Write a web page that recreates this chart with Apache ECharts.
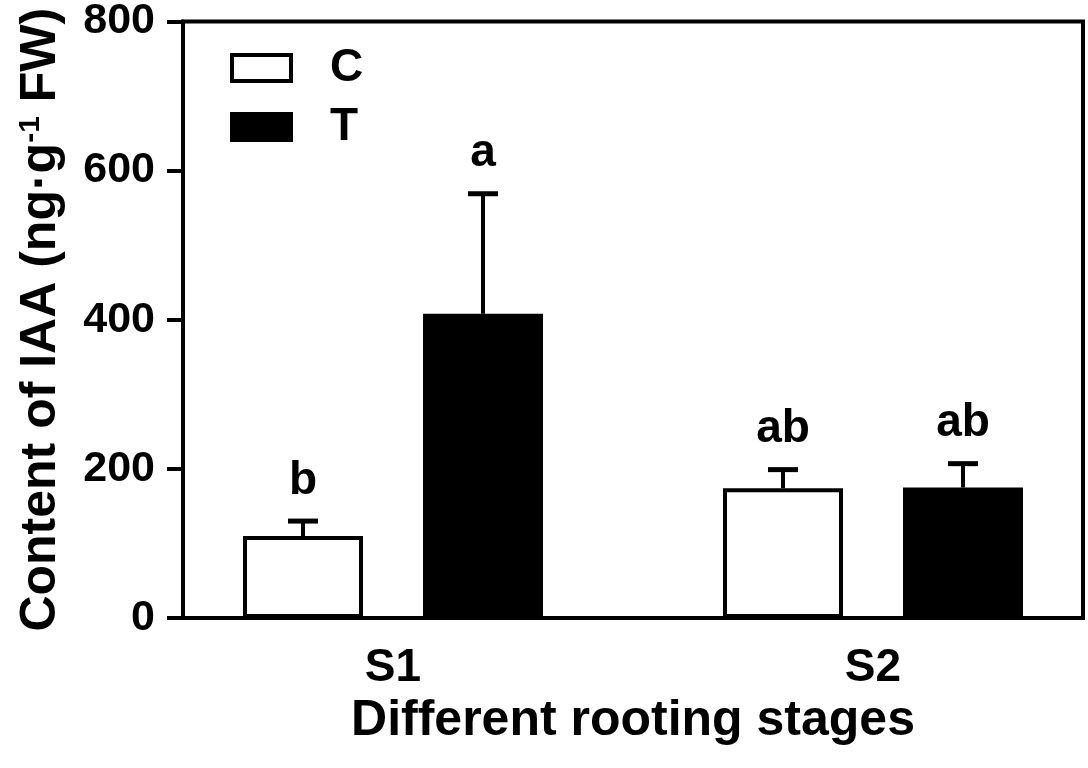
<!DOCTYPE html>
<html>
<head>
<meta charset="utf-8">
<script src="https://cdn.jsdelivr.net/npm/echarts@6/dist/echarts.min.js"></script>
<style>
  html, body { margin: 0; padding: 0; background: #fff; }
  #chart { width: 1088px; height: 768px; }
</style>
</head>
<body>
<div id="chart"></div>
<script>
// data
const stages = ["S1", "S2"];
const groups = ["C", "T"];
const meanC = [110, 174];
const meanT = [408, 175];
const errC = [20, 25];
const errT = [161, 32];
const sigC = ["b", "ab"];
const sigT = ["a", "ab"];

// layout: stage centres and bar offset on a 0..15 x scale
const stageCenter = [3.5, 11.5];
const barOffset = 1.5;

const FONT = '"Liberation Sans", Arial, sans-serif';

const chart = echarts.init(document.getElementById("chart"));

function barData(means, side) {
  return means.map((v, i) => [stageCenter[i] + side * barOffset, v]);
}

function errData(means, errs, side) {
  return means.map((v, i) => [stageCenter[i] + side * barOffset, v, errs[i]]);
}

function makeErrRender(letters) {
  return function (params, api) {
    const x = api.value(0), v = api.value(1), e = api.value(2);
    const base = api.coord([x, v]);
    const top = api.coord([x, v + e]);
    return {
      type: "group",
      children: [
        { type: "line", shape: { x1: base[0], y1: base[1], x2: top[0], y2: top[1] },
          style: { stroke: "#000", lineWidth: 4 } },
        { type: "line", shape: { x1: top[0] - 15, y1: top[1], x2: top[0] + 15, y2: top[1] },
          style: { stroke: "#000", lineWidth: 5 } },
        { type: "text", x: top[0], y: top[1] - 17,
          style: { text: letters[params.dataIndex], fill: "#000", align: "center", verticalAlign: "bottom",
                   font: "bold 46px " + FONT } },
      ],
    };
  };
}

chart.setOption({
  animation: false,
  grid: {
    left: 183, right: 5, top: 20, bottom: 150,
    show: true, borderColor: "#000", borderWidth: 4,
  },
  legend: {
    data: groups,
    orient: "vertical",
    left: 225, top: 40,
    itemWidth: 59, itemHeight: 26, itemGap: 13,
    icon: "rect",
    itemStyle: { borderColor: "#000", borderWidth: 4 },
    textStyle: { fontSize: 46, fontWeight: "bold", fontFamily: FONT, color: "#000",
                 lineHeight: 30, padding: [0, 0, 0, 34] },
  },
  xAxis: {
    type: "value",
    min: 0, max: 15,
    axisLine: { show: true, lineStyle: { color: "#000", width: 4 } },
    axisTick: { show: false },
    splitLine: { show: false },
    axisLabel: {
      customValues: stageCenter,
      formatter: (v) => stages[stageCenter.indexOf(v)] || "",
      color: "#000", fontSize: 46, fontWeight: "bold", fontFamily: FONT, margin: 27,
    },
    name: "Different rooting stages",
    nameLocation: "middle",
    nameGap: 70,
    nameTextStyle: { color: "#000", fontSize: 50, fontWeight: "bold", fontFamily: FONT },
  },
  yAxis: {
    type: "value",
    min: 0, max: 800, interval: 200,
    axisLine: { show: true, lineStyle: { color: "#000", width: 4 } },
    axisTick: { show: true, length: 16, lineStyle: { color: "#000", width: 4 } },
    splitLine: { show: false },
    axisLabel: { color: "#000", fontSize: 43, fontWeight: "bold", fontFamily: FONT, margin: 28 },
    name: "Content of IAA (ng·g{sup|-1} FW)",
    nameLocation: "middle",
    nameGap: 117,
    nameTextStyle: {
      color: "#000", fontSize: 50, fontWeight: "bold", fontFamily: FONT,
      rich: { sup: { fontSize: 30, fontWeight: "bold", fontFamily: FONT, color: "#000", verticalAlign: "top" } },
    },
  },
  series: [
    {
      name: "C", type: "bar", data: barData(meanC, -1),
      barWidth: 120, barGap: "-100%",
      itemStyle: { color: "#fff", borderColor: "#000", borderWidth: 4 },
    },
    {
      name: "T", type: "bar", data: barData(meanT, 1),
      barWidth: 120, barGap: "-100%",
      itemStyle: { color: "#000", borderColor: "#000", borderWidth: 4 },
    },
    {
      name: "errC", type: "custom", data: errData(meanC, errC, -1),
      renderItem: makeErrRender(sigC), z: 5,
    },
    {
      name: "errT", type: "custom", data: errData(meanT, errT, 1),
      renderItem: makeErrRender(sigT), z: 5,
    },
  ],
});
</script>
</body>
</html>
